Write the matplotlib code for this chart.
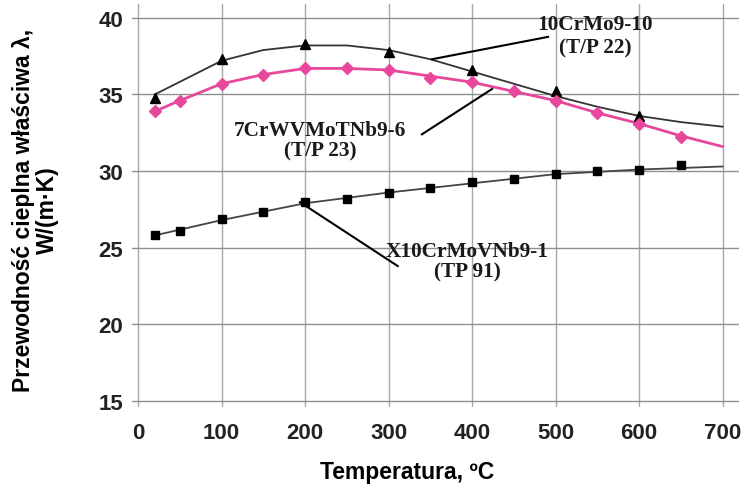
import numpy as np
import matplotlib.pyplot as plt

# --- dane ---
# 10CrMo9-10 (T/P 22): punkty pomiarowe i krzywa
T_22 = [20, 100, 200, 300, 400, 500, 600]
lam_22 = [34.8, 37.3, 38.3, 37.8, 36.6, 35.2, 33.6]
T_22_krzywa = [20, 100, 150, 200, 250, 300, 350, 400, 450, 500, 550, 600, 650, 700]
lam_22_krzywa = [35.0, 37.2, 37.9, 38.2, 38.2, 37.9, 37.3, 36.5, 35.7, 34.9, 34.2, 33.6, 33.2, 32.9]

# 7CrWVMoTNb9-6 (T/P 23)
T_23 = [20, 50, 100, 150, 200, 250, 300, 350, 400, 450, 500, 550, 600, 650]
lam_23 = [33.9, 34.6, 35.7, 36.3, 36.7, 36.7, 36.6, 36.1, 35.8, 35.2, 34.6, 33.8, 33.1, 32.2]
T_23_krzywa = [20, 50, 100, 150, 200, 250, 300, 350, 400, 450, 500, 550, 600, 650, 700]
lam_23_krzywa = [33.9, 34.6, 35.7, 36.3, 36.7, 36.7, 36.6, 36.2, 35.8, 35.2, 34.6, 33.8, 33.1, 32.3, 31.6]

# X10CrMoVNb9-1 (TP 91)
T_91 = [20, 50, 100, 150, 200, 250, 300, 350, 400, 450, 500, 550, 600, 650]
lam_91 = [25.8, 26.1, 26.9, 27.3, 28.0, 28.2, 28.6, 28.9, 29.3, 29.5, 29.8, 30.0, 30.1, 30.4]
T_91_krzywa = [20, 100, 200, 300, 400, 500, 600, 700]
lam_91_krzywa = [25.8, 26.8, 27.9, 28.6, 29.2, 29.8, 30.1, 30.3]

x_ticks = [0, 100, 200, 300, 400, 500, 600, 700]
y_ticks = [15, 20, 25, 30, 35, 40]

etykiety = ['10CrMo9-10\n(T/P 22)', '7CrWVMoTNb9-6\n(T/P 23)', 'X10CrMoVNb9-1\n(TP 91)']
pozycje_tekstu = [(547, 38.82), (218, 32.03), (394, 24.1)]
odstep_linii = [1.2, 1.02, 1.02]
koniec_tekstu = [(491, 38.76), (340, 32.4), (311, 23.8)]
punkt_krzywej = [(352, 37.3), (424, 35.36), (194, 27.97)]

plt.rcParams['font.family'] = ['Liberation Sans', 'DejaVu Sans']

fig = plt.figure(figsize=(7.47, 4.89), dpi=100)
ax = fig.add_axes([0.177, 0.1656, 0.8126, 0.824])

pink = '#e8489c'

ax.plot(T_22_krzywa, lam_22_krzywa, color='#333333', lw=1.3, zorder=3)
ax.plot(T_22, lam_22, ls='none', marker='^', color='black', ms=7, zorder=4)

ax.plot(T_23_krzywa, lam_23_krzywa, color=pink, lw=2.0, zorder=3)
ax.plot(T_23, lam_23, ls='none', marker='D', color=pink, ms=6, zorder=4)

ax.plot(T_91_krzywa, lam_91_krzywa, color='#444444', lw=1.3, zorder=3)
ax.plot(T_91, lam_91, ls='none', marker='s', color='black', ms=6, zorder=4)

for txt, (tx, ty), ls_, (ex, ey), (px, py) in zip(etykiety, pozycje_tekstu, odstep_linii,
                                                  koniec_tekstu, punkt_krzywej):
    ax.text(tx, ty, txt, ha='center', va='center', fontsize=15.3, fontweight='bold',
            family='Liberation Serif', linespacing=ls_, color='#1a1a1a', zorder=5)
    ax.plot([px, ex], [py, ey], color='black', lw=1.5, zorder=5)

ax.set_xlim(-7, 720)
ax.set_ylim(14.6, 40.9)
ax.set_xticks(x_ticks)
ax.set_yticks(y_ticks)
ax.grid(True, axis='y', color='#909090', lw=1.0)
ax.grid(True, axis='x', color='#a8a8a8', lw=1.0)
ax.set_axisbelow(True)
for s in ax.spines.values():
    s.set_visible(False)
ax.tick_params(length=0, labelsize=16)
ax.tick_params(axis='x', pad=11)
ax.tick_params(axis='y', pad=6.5)
for lab in ax.get_xticklabels() + ax.get_yticklabels():
    lab.set_fontweight('bold')
    lab.set_color('#222222')

fig.text(407 / 747, 1 - 473 / 489, 'Temperatura, ºC', ha='center', va='center',
         fontsize=16.5, fontweight='bold')
fig.text(35.5 / 747, 1 - 210 / 489, 'Przewodność cieplna właściwa λ,\nW/(m·K)',
         ha='center', va='center', rotation=90, fontsize=16.5, fontweight='bold',
         linespacing=1.1)

fig.savefig('out.png', dpi=100)
